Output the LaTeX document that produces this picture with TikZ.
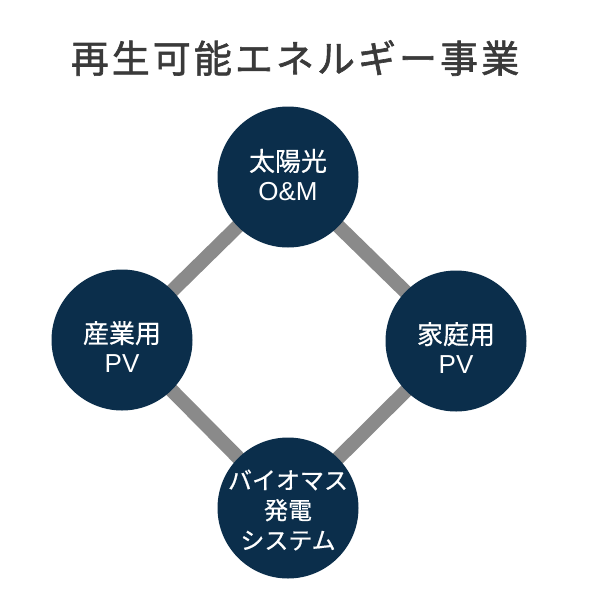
\documentclass[tikz,border=0pt]{standalone}
\usepackage{fontspec}
\setmainfont{Noto Sans CJK JP}
\newfontfamily\latinfont{Liberation Sans}
\usetikzlibrary{backgrounds}
\definecolor{navy}{RGB}{11,46,75}
\definecolor{conn}{RGB}{138,138,138}
\definecolor{titlec}{RGB}{58,58,58}
\begin{document}
\begin{tikzpicture}[x=1pt,y=-1pt,
  circ/.style={circle,fill=navy,minimum size=141pt,inner sep=0pt},
  ctext/.style={text=white,font=\fontsize{26}{30}\selectfont\addfontfeature{FakeBold=0.6},align=center,inner sep=0pt},
  link/.style={draw=conn,line width=14pt}]
\useasboundingbox (0,0) rectangle (590,590);
\node[font=\fontsize{38}{40}\selectfont\addfontfeature{LetterSpace=8,FakeBold=1.6},text=titlec] (title) at (295,58) {再生可能エネルギー事業};
\node[circ] (om) at (288,177) {};
\node[circ] (ind) at (122,340) {};
\node[circ] (home) at (456,341) {};
\node[circ] (bio) at (288,508) {};
\node[ctext] (omT) at (288,175) {太陽光\\{\latinfont O\&M}};
\node[ctext] (indT) at (122,347) {産業用\\{\latinfont PV}};
\node[ctext] (homeT) at (456,348) {家庭用\\{\latinfont PV}};
\node[ctext,font=\fontsize{24}{30}\selectfont\addfontfeature{FakeBold=0.6}] (bioT) at (288,510) {バイオマス\\発電\\システム};
\begin{scope}[on background layer]
  \draw[link] (om.center) -- (ind.center);
  \draw[link] (om.center) -- (home.center);
  \draw[link] (ind.center) -- (bio.center);
  \draw[link] (home.center) -- (bio.center);
\end{scope}
\end{tikzpicture}
\end{document}
